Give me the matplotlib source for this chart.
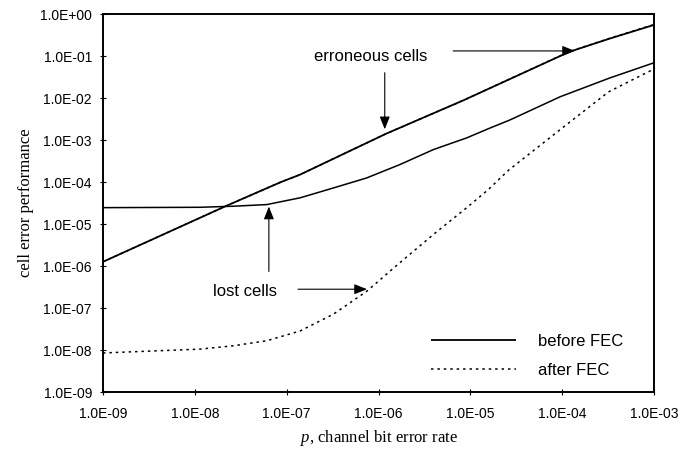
import matplotlib
matplotlib.use("Agg")
import matplotlib.pyplot as plt
from matplotlib.ticker import FixedLocator, FixedFormatter, NullLocator

# ---------------- data ----------------
p_err = [1e-9, 2.2e-8, 8.5e-8, 1.4e-7, 1.2e-6, 8.5e-6, 1.2e-4, 3.3e-4, 1e-3]
err_before = [1.26e-6, 2.7e-5, 9.8e-5, 1.5e-4, 1.4e-3, 8.9e-3, 0.126, 0.26, 0.55]
err_after = [1.26e-6, 2.7e-5, 9.8e-5, 1.5e-4, 1.4e-3, 8.9e-3, 0.128, 0.265, 0.56]

p_lost = [1e-9, 1.14e-8, 2.62e-8, 6.07e-8, 1.40e-7, 3.22e-7, 7.44e-7, 1.71e-6,
          3.95e-6, 9.1e-6, 1.64e-5, 2.7e-5, 9.5e-5, 3.3e-4, 1e-3]
lost_before = [2.45e-5, 2.5e-5, 2.65e-5, 2.9e-5, 4.2e-5, 7.2e-5, 1.25e-4, 2.6e-4,
               5.9e-4, 1.12e-3, 1.93e-3, 3.0e-3, 1.07e-2, 3.0e-2, 6.9e-2]

p_lost_fec = [1e-9, 1.14e-8, 2.62e-8, 6.07e-8, 1.40e-7, 3.22e-7, 7.44e-7,
              1.71e-6, 3.95e-6, 9.1e-6, 1.57e-5, 2.6e-5, 9.3e-5, 3.2e-4,
              6.0e-4, 1e-3]
lost_after = [8.5e-9, 1.05e-8, 1.26e-8, 1.66e-8, 2.84e-8, 7.1e-8, 2.5e-7,
              1.2e-6, 5.6e-6, 2.43e-5, 6.6e-5, 1.9e-4, 1.7e-3, 1.4e-2,
              2.8e-2, 4.9e-2]

x_ticks = [1e-9, 1e-8, 1e-7, 1e-6, 1e-5, 1e-4, 1e-3]
x_tick_labels = ["1.0E-09", "1.0E-08", "1.0E-07", "1.0E-06", "1.0E-05",
                 "1.0E-04", "1.0E-03"]
y_ticks = [1e-9, 1e-8, 1e-7, 1e-6, 1e-5, 1e-4, 1e-3, 1e-2, 1e-1, 1e0]
y_tick_labels = ["1.0E-09", "1.0E-08", "1.0E-07", "1.0E-06", "1.0E-05",
                 "1.0E-04", "1.0E-03", "1.0E-02", "1.0E-01", "1.0E+00"]

# ---------------- figure ----------------
plt.rcParams['mathtext.fontset'] = 'custom'
plt.rcParams['mathtext.it'] = 'Liberation Serif:italic'
plt.rcParams['mathtext.rm'] = 'Liberation Serif'

fig = plt.figure(figsize=(6.89, 4.51), dpi=100)
ax = fig.add_axes([103 / 689, 59 / 451, 551 / 689, 378 / 451])

sans = "Liberation Sans"
serif = "Liberation Serif"

dot_style = (0, (1.6, 2.6))
ax.plot(p_err, err_before, color="black", lw=1.3, solid_capstyle="butt",
        solid_joinstyle="round", label="before FEC")
ax.plot(p_lost, lost_before, color="black", lw=1.1, solid_joinstyle="round")
ax.plot(p_err, err_after, color="black", lw=1.1, linestyle=dot_style,
        label="after FEC")
ax.plot(p_lost_fec, lost_after, color="black", lw=1.1, linestyle=dot_style)

ax.set_xscale("log")
ax.set_yscale("log")
ax.set_xlim(1e-9, 1e-3)
ax.set_ylim(1e-9, 1e0)

ax.xaxis.set_major_locator(FixedLocator(x_ticks))
ax.xaxis.set_major_formatter(FixedFormatter(x_tick_labels))
ax.yaxis.set_major_locator(FixedLocator(y_ticks))
ax.yaxis.set_major_formatter(FixedFormatter(y_tick_labels))
ax.xaxis.set_minor_locator(NullLocator())
ax.yaxis.set_minor_locator(NullLocator())
ax.tick_params(direction="inout", length=4, width=0.8, pad=6, labelsize=10)
ax.tick_params(axis="x", pad=9)
for lab in ax.get_xticklabels() + ax.get_yticklabels():
    lab.set_fontfamily(sans)

for s in ax.spines.values():
    s.set_linewidth(1.4)
    s.set_color("black")

ax.set_xlabel("$p$, channel bit error rate", fontfamily=serif, fontsize=12,
              labelpad=5)
ax.set_ylabel("cell error performance", fontfamily=serif, fontsize=12,
              labelpad=4)

# ---------------- annotations ----------------
aprops = dict(arrowstyle="-|>,head_length=0.55,head_width=0.22",
              mutation_scale=14, lw=0.8, color="black",
              shrinkA=0, shrinkB=0)

ax.text(8.2e-7, 0.095, "erroneous cells", fontfamily=sans, fontsize=12,
        ha="center", va="center")
ax.annotate("", xy=(1.17e-6, 1.8e-3), xytext=(1.17e-6, 4.0e-2),
            arrowprops=aprops)
ax.annotate("", xy=(1.38e-4, 0.132), xytext=(6.5e-6, 0.132),
            arrowprops=aprops)

ax.text(3.5e-8, 2.5e-7, "lost cells", fontfamily=sans, fontsize=12,
        ha="center", va="center")
ax.annotate("", xy=(6.4e-8, 2.6e-5), xytext=(6.4e-8, 7.4e-7),
            arrowprops=aprops)
ax.annotate("", xy=(7.5e-7, 2.8e-7), xytext=(1.33e-7, 2.8e-7),
            arrowprops=aprops)

# ---------------- legend ----------------
leg = ax.legend(loc="lower left", bbox_to_anchor=(0.583, 0.02),
                frameon=False, handlelength=5.1, handletextpad=1.3,
                labelspacing=0.85, borderaxespad=0,
                prop={"family": sans, "size": 12})

fig.savefig("out.png", dpi=100)
